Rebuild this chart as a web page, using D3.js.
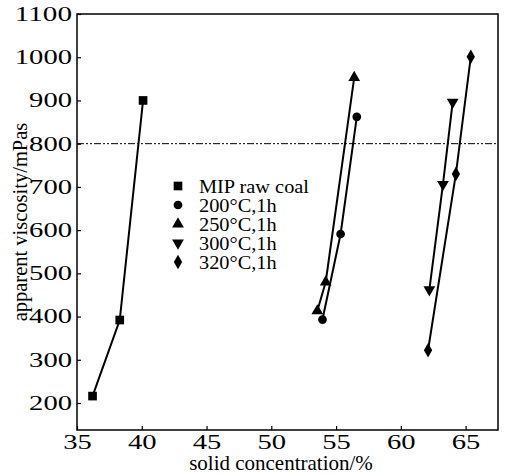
<!DOCTYPE html>
<html><head><meta charset="utf-8">
<script src="https://cdn.jsdelivr.net/npm/d3@7"></script>
<style>body{margin:0;background:#fff}svg{display:block}text{font-family:"Liberation Serif","Times New Roman",serif;fill:#000}</style>
</head><body><svg id="c" width="507" height="474"></svg>
<script>
const seriesNames = ["MIP raw coal", "200°C,1h", "250°C,1h", "300°C,1h", "320°C,1h"];
const seriesSymbols = ["square", "circle", "triangle", "triangleDown", "diamond"];
const rawX = [36.2, 38.3, 40.1];
const rawY = [216, 392, 900];
const s200X = [53.95, 55.35, 56.6];
const s200Y = [393, 591, 862];
const s250X = [53.55, 54.2, 56.4];
const s250Y = [413, 480, 953];
const s300X = [62.2, 63.25, 64.0];
const s300Y = [462, 706, 896];
const s320X = [62.1, 64.25, 65.4];
const s320Y = [322, 730, 1001];
const xTicks = [35, 40, 45, 50, 55, 60, 65];
const yTicks = [200, 300, 400, 500, 600, 700, 800, 900, 1000, 1100];
const refLine = 800;

const seriesX = [rawX, s200X, s250X, s300X, s320X];
const seriesY = [rawY, s200Y, s250Y, s300Y, s320Y];

const L = 77, R = 498, T = 14, B = 430;
const x = d3.scaleLinear().domain([35, 67.5]).range([L, R]);
const y = d3.scaleLinear().domain([1100, 200]).range([T, 403]);
const svg = d3.select("#c");

// frame
svg.append("rect").attr("x", L).attr("y", T).attr("width", R - L).attr("height", B - T)
  .attr("fill", "none").attr("stroke", "#000").attr("stroke-width", 1.5);

// axes
const xa = svg.append("g").attr("transform", `translate(0,${B})`)
  .call(d3.axisBottom(x).tickValues(xTicks).tickSizeInner(-4).tickSizeOuter(0).tickPadding(5).tickFormat(d3.format("d")));
const ya = svg.append("g").attr("transform", `translate(${L},0)`)
  .call(d3.axisLeft(y).tickValues(yTicks).tickSizeInner(-4).tickSizeOuter(0).tickPadding(5).tickFormat(d3.format("d")));
[xa, ya].forEach(a => {
  a.select(".domain").remove();
  a.selectAll("line").attr("stroke", "#000").attr("stroke-width", 1.2);
  a.selectAll("text").attr("font-size", 20).attr("fill", "#000")
    .attr("textLength", function () { return this.textContent.length * 14.3; })
    .attr("lengthAdjust", "spacingAndGlyphs");
});

// reference line
svg.append("line").attr("x1", L).attr("x2", R).attr("y1", y(refLine)).attr("y2", y(refLine))
  .attr("stroke", "#000").attr("stroke-width", 1).attr("stroke-dasharray", "7,2,2,2,2,2");

const symMap = {
  square: d3.symbolSquare, circle: d3.symbolCircle, triangle: d3.symbolTriangle,
  triangleDown: d3.symbolTriangle, diamond: d3.symbolDiamond
};
const symSize = { square: 75, circle: 60, triangle: 60, triangleDown: 60, diamond: 60 };
function drawSym(g, type, cx, cy) {
  g.append("path").attr("d", d3.symbol().type(symMap[type]).size(symSize[type])())
    .attr("transform", `translate(${cx},${cy})` + (type === "triangleDown" ? " rotate(180)" : ""))
    .attr("fill", "#000");
}

const line = d3.line();
seriesX.forEach((xs, i) => {
  const pts = xs.map((v, j) => [x(v), y(seriesY[i][j])]);
  svg.append("path").attr("d", line(pts)).attr("fill", "none").attr("stroke", "#000").attr("stroke-width", 2);
  const g = svg.append("g");
  pts.forEach(p => drawSym(g, seriesSymbols[i], p[0], p[1]));
});

// legend
const lg = svg.append("g");
seriesNames.forEach((n, i) => {
  const yy = 186 + i * 19;
  drawSym(lg, seriesSymbols[i], 178, yy);
  const t = lg.append("text").attr("x", 199).attr("y", yy + 6.5).attr("font-size", 18.5).text(n);
  const w = t.node().getComputedTextLength();
  t.attr("textLength", w * 1.1).attr("lengthAdjust", "spacingAndGlyphs");
});

// axis titles
svg.append("text").attr("x", 281).attr("y", 470).attr("text-anchor", "middle").attr("font-size", 21)
  .text("solid concentration/%");
svg.append("text").attr("transform", `translate(27,${(T + B) / 2}) rotate(-90)`).attr("text-anchor", "middle")
  .attr("font-size", 20.5).text("apparent viscosity/mPas");
</script></body></html>
